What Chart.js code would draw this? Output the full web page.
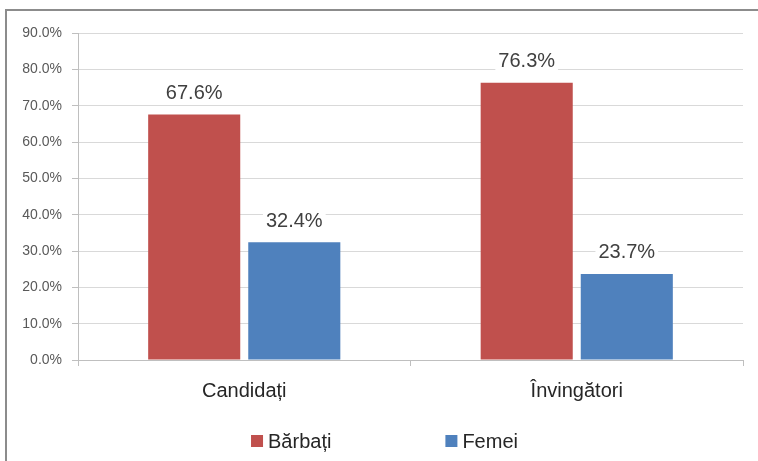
<!DOCTYPE html>
<html>
<head>
<meta charset="utf-8">
<script src="https://cdn.jsdelivr.net/npm/chart.js@4"></script>
<style>
  body { margin: 0; background: #fff; }
  #frame {
    position: absolute; left: 5px; top: 9px;
    width: 753px; height: 452px;
    border-top: 2px solid #8c8c8c; border-left: 2px solid #8c8c8c;
  }
  #chart { position: absolute; left: 0; top: 0; }
</style>
</head>
<body>
<div id="frame"><canvas id="chart" width="751" height="450"></canvas></div>
<script>
const categories = ['Candidați', 'Învingători'];
const seriesNames = ['Bărbați', 'Femei'];
const barbati = [67.6, 76.3];
const femei = [32.4, 23.7];
const seriesColors = ['#C0504D', '#4F81BD'];
const yMax = 90;
const yStep = 10;

const fontFamily = '"Liberation Sans", Arial, sans-serif';

// value labels above bars, white box behind them like the original
const valueLabels = {
  id: 'valueLabels',
  afterDatasetsDraw(chart) {
    const ctx = chart.ctx;
    ctx.save();
    ctx.font = '20px ' + fontFamily;
    ctx.textAlign = 'center';
    ctx.textBaseline = 'middle';
    chart.data.datasets.forEach((ds, i) => {
      chart.getDatasetMeta(i).data.forEach((bar, j) => {
        const txt = ds.data[j].toFixed(1) + '%';
        const w = ctx.measureText(txt).width + 6;
        const y = bar.y - 22;
        ctx.fillStyle = '#fff';
        ctx.fillRect(bar.x - w / 2, y - 11, w, 22);
        ctx.fillStyle = '#404040';
        ctx.fillText(txt, bar.x, y + 1);
      });
    });
    ctx.restore();
  }
};

// bottom legend with wide spacing between the two entries
const wideLegend = {
  id: 'wideLegend',
  afterDraw(chart) {
    const ctx = chart.ctx;
    ctx.save();
    ctx.font = '20px ' + fontFamily;
    ctx.textBaseline = 'middle';
    const box = 12, gapText = 5, gapItems = 114;
    const items = chart.data.datasets.map(ds => ({
      text: ds.label, color: ds.backgroundColor,
      w: box + gapText + ctx.measureText(ds.label).width
    }));
    const total = items.reduce((s, it) => s + it.w, 0) + gapItems * (items.length - 1);
    let x = chart.width / 2 + 2 - total / 2;
    const y = 430;
    items.forEach(it => {
      ctx.fillStyle = it.color;
      ctx.fillRect(x, y - box / 2, box, box);
      ctx.fillStyle = '#262626';
      ctx.fillText(it.text, x + box + gapText, y + 1);
      x += it.w + gapItems;
    });
    ctx.restore();
  }
};

new Chart(document.getElementById('chart'), {
  type: 'bar',
  data: {
    labels: categories,
    datasets: [{
      label: seriesNames[0],
      data: barbati,
      backgroundColor: seriesColors[0],
      categoryPercentage: 0.602,
      barPercentage: 0.92
    }, {
      label: seriesNames[1],
      data: femei,
      backgroundColor: seriesColors[1],
      categoryPercentage: 0.602,
      barPercentage: 0.92
    }]
  },
  options: {
    responsive: false,
    animation: false,
    devicePixelRatio: 1,
    layout: { padding: { top: 22, right: 15, left: 0, bottom: 0 } },
    plugins: {
      legend: { display: false },
      tooltip: { enabled: false }
    },
    scales: {
      y: {
        min: 0,
        max: yMax,
        afterFit(scale) { scale.width = 71; },
        ticks: {
          stepSize: yStep,
          padding: 10,
          color: '#595959',
          font: { family: fontFamily, size: 14 },
          callback: v => v.toFixed(1) + '%'
        },
        grid: { color: '#d9d9d9', tickLength: 6, tickColor: '#bfbfbf' },
        border: { color: '#bfbfbf' }
      },
      x: {
        afterFit(scale) { scale.height = 101; },
        ticks: {
          padding: 13,
          color: '#262626',
          font: { family: fontFamily, size: 20 }
        },
        grid: { offset: true, drawOnChartArea: false, tickLength: 6, color: '#bfbfbf' },
        border: { color: '#bfbfbf' }
      }
    }
  },
  plugins: [valueLabels, wideLegend]
});
</script>
</body>
</html>
